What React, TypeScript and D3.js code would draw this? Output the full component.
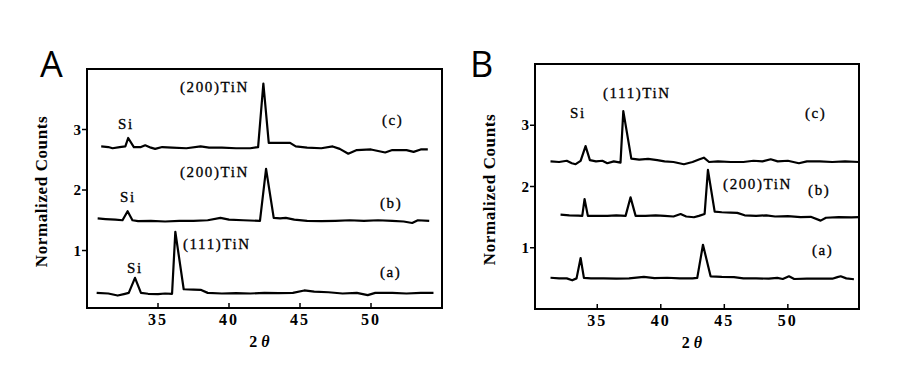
import React from "react";
import * as d3 from "d3";

type P = [number, number];

// ---------- Panel A data (2θ, normalized counts) ----------
const panelA_a: P[] = [
  [30.68, 0.3], [31.5, 0.29], [32.16, 0.256], [32.6, 0.28], [32.94, 0.3], [33.38, 0.548], [33.8, 0.3],
  [34.3, 0.285], [35.0, 0.28], [35.5, 0.29], [35.99, 0.285], [36.22, 1.31], [36.81, 0.36], [37.5, 0.355],
  [38.0, 0.35], [38.5, 0.3], [39.5, 0.29], [40.5, 0.295], [41.5, 0.29], [42.5, 0.3], [43.5, 0.295],
  [44.5, 0.3], [45.3, 0.34], [46, 0.32], [47, 0.31], [48, 0.29], [49, 0.3], [49.77, 0.262], [50.3, 0.3],
  [51.5, 0.3], [52.5, 0.29], [53.5, 0.3], [54.4, 0.3],
];
const panelA_b: P[] = [
  [30.75, 1.53], [31.3, 1.52], [32.0, 1.51], [32.5, 1.5], [32.86, 1.65], [33.2, 1.5], [33.6, 1.485],
  [34.5, 1.49], [35.5, 1.48], [36.5, 1.49], [37.5, 1.49], [38.5, 1.5], [39.4, 1.54], [40, 1.51],
  [41, 1.5], [42.18, 1.49], [42.61, 2.35], [43.15, 1.54], [43.6, 1.53], [44.0, 1.54], [44.6, 1.51],
  [45.5, 1.49], [46.5, 1.485], [47.5, 1.49], [48.5, 1.5], [49.5, 1.49], [50.5, 1.5], [51.5, 1.49],
  [52.3, 1.48], [52.9, 1.455], [53.3, 1.5], [54.1, 1.49],
];
const panelA_c: P[] = [
  [31.0, 2.72], [31.5, 2.71], [31.8, 2.69], [32.3, 2.71], [32.7, 2.72], [32.9, 2.86], [33.3, 2.71],
  [33.8, 2.71], [34.1, 2.74], [34.5, 2.7], [34.8, 2.68], [35.3, 2.71], [36, 2.7], [37, 2.69], [38.0, 2.72],
  [38.6, 2.7], [39.5, 2.7], [40.5, 2.69], [41.5, 2.69], [42.05, 2.71], [42.42, 3.76], [42.8, 2.78],
  [43.5, 2.78], [44.3, 2.78], [44.7, 2.72], [45.5, 2.7], [46.5, 2.69], [47.3, 2.72], [47.8, 2.68],
  [48.4, 2.6], [49, 2.66], [50, 2.67], [51.0, 2.62], [51.5, 2.66], [52.5, 2.66], [53, 2.63], [53.5, 2.67],
  [54.0, 2.67],
];

// ---------- Panel B data ----------
const panelB_a: P[] = [
  [31.32, 0.51], [32.0, 0.5], [32.6, 0.5], [33.03, 0.469], [33.37, 0.5], [33.69, 0.832], [33.95, 0.508],
  [34.5, 0.5], [35.5, 0.5], [36.5, 0.495], [37.5, 0.5], [38.67, 0.524], [39.5, 0.505], [40.5, 0.51],
  [41.5, 0.5], [42.5, 0.5], [42.87, 0.508], [43.32, 1.049], [43.92, 0.534], [44.8, 0.525], [45.76, 0.52],
  [46.5, 0.5], [47.5, 0.5], [48.5, 0.495], [49.17, 0.508], [49.6, 0.49], [50.09, 0.534], [50.5, 0.49],
  [51.5, 0.495], [52.5, 0.495], [53.5, 0.495], [53.9, 0.52], [54.16, 0.534], [54.6, 0.5], [55.2, 0.486],
];
const panelB_b: P[] = [
  [32.11, 1.54], [32.8, 1.53], [33.5, 1.525], [33.82, 1.52], [34.0, 1.795], [34.26, 1.52], [35.0, 1.52],
  [35.8, 1.52], [36.5, 1.53], [37.23, 1.52], [37.62, 1.823], [38.02, 1.52], [38.8, 1.52], [39.6, 1.53],
  [40.3, 1.52], [41.0, 1.51], [41.56, 1.55], [42.0, 1.51], [42.61, 1.498], [43.0, 1.52], [43.45, 1.552],
  [43.71, 2.27], [44.24, 1.589], [44.8, 1.58], [45.5, 1.575], [46.02, 1.57], [46.6, 1.53], [47.5, 1.52],
  [48.3, 1.53], [49.0, 1.51], [50.0, 1.515], [51.0, 1.5], [51.8, 1.505], [52.58, 1.443], [53.0, 1.49],
  [54.0, 1.5], [55.0, 1.495], [55.6, 1.5],
];
const panelB_c: P[] = [
  [31.32, 2.41], [32.0, 2.4], [32.6, 2.42], [33.0, 2.38], [33.3, 2.364], [33.69, 2.418], [34.08, 2.66],
  [34.42, 2.43], [34.9, 2.41], [35.4, 2.42], [35.79, 2.38], [36.3, 2.41], [36.83, 2.39], [37.05, 3.23],
  [37.68, 2.456], [38.3, 2.44], [39.0, 2.45], [39.72, 2.43], [40.3, 2.41], [41.0, 2.4], [41.82, 2.364],
  [42.5, 2.4], [43.0, 2.44], [43.39, 2.47], [43.8, 2.4], [44.5, 2.41], [45.5, 2.4], [46.5, 2.4],
  [47.3, 2.42], [48.0, 2.41], [48.65, 2.445], [49.2, 2.41], [50.0, 2.42], [50.87, 2.38], [51.5, 2.41],
  [52.5, 2.41], [53.5, 2.4], [54.5, 2.41], [55.6, 2.4],
];

const xTicks = [35, 40, 45, 50];
const yTicks = [1, 2, 3];

const labelsA = [
  { text: "(200)TiN", x: 36.55, y: 3.625 },
  { text: "Si", x: 32.18, y: 3.004 },
  { text: "(c)", x: 50.77, y: 3.075 },
  { text: "(200)TiN", x: 36.55, y: 2.22 },
  { text: "Si", x: 32.32, y: 1.807 },
  { text: "(b)", x: 50.63, y: 1.703 },
  { text: "(111)TiN", x: 36.76, y: 1.025 },
  { text: "Si", x: 32.82, y: 0.624 },
  { text: "(a)", x: 50.63, y: 0.567 },
];
const labelsB = [
  { text: "Si", x: 32.85, y: 3.113 },
  { text: "(111)TiN", x: 35.45, y: 3.44 },
  { text: "(c)", x: 51.35, y: 3.113 },
  { text: "(200)TiN", x: 44.9, y: 1.954 },
  { text: "(b)", x: 51.59, y: 1.861 },
  { text: "(a)", x: 51.9, y: 0.882 },
];

const SERIF = "'Liberation Serif', 'DejaVu Serif', serif";
const SANS = "'Open Sans', 'Liberation Sans', sans-serif";

type PanelProps = {
  letter: string;
  letterX: number;
  letterY: number;
  xDomain: [number, number];
  yDomain: [number, number];
  left: number;
  right: number;
  top: number;
  bottom: number;
  series: P[][];
  labels: { text: string; x: number; y: number }[];
  yLabelX: number;
};

function Panel(p: PanelProps) {
  const x = d3.scaleLinear().domain(p.xDomain).range([p.left, p.right]);
  const y = d3.scaleLinear().domain(p.yDomain).range([p.bottom, p.top]);
  const line = d3
    .line<P>()
    .x((d) => x(d[0]))
    .y((d) => y(d[1]));
  const cx = (p.left + p.right) / 2;
  const cy = (p.top + p.bottom) / 2;
  return (
    <g>
      <text x={p.letterX} y={p.letterY} fontFamily={SANS} fontSize={36} fill="#000">
        {p.letter}
      </text>
      <rect
        x={p.left}
        y={p.top}
        width={p.right - p.left}
        height={p.bottom - p.top}
        fill="none"
        stroke="#000"
        strokeWidth={2}
      />
      {xTicks.map((t) => (
        <g key={"x" + t}>
          <line x1={x(t)} x2={x(t)} y1={p.bottom} y2={p.bottom - 5} stroke="#000" strokeWidth={1.5} />
          <text
            x={x(t)}
            y={p.bottom + 17}
            textAnchor="middle"
            fontFamily={SERIF}
            fontSize={16}
            fontWeight="bold"
            letterSpacing={2}
          >
            {t}
          </text>
        </g>
      ))}
      {yTicks.map((t) => (
        <g key={"y" + t}>
          <line x1={p.left} x2={p.left - 5} y1={y(t)} y2={y(t)} stroke="#000" strokeWidth={1.5} />
          <text
            x={p.left - 6}
            y={y(t) + 5}
            textAnchor="end"
            fontFamily={SERIF}
            fontSize={15}
            fontWeight="bold"
          >
            {t}
          </text>
        </g>
      ))}
      <text
        x={cx - 5}
        y={p.bottom + 39}
        textAnchor="middle"
        fontFamily={SERIF}
        fontSize={16}
        fontWeight="bold"
      >
        2 <tspan fontStyle="italic">θ</tspan>
      </text>
      <text
        transform={`translate(${p.yLabelX},${cy + 3}) rotate(-90)`}
        textAnchor="middle"
        fontFamily={SERIF}
        fontSize={17}
        fontWeight="bold"
        letterSpacing={0.6}
      >
        Normalized Counts
      </text>
      {p.series.map((s, i) => (
        <path key={i} d={line(s) || ""} fill="none" stroke="#000" strokeWidth={2.2} strokeLinejoin="round" />
      ))}
      {p.labels.map((l, i) => (
        <text
          key={i}
          x={x(l.x)}
          y={y(l.y)}
          fontFamily={SERIF}
          fontSize={15}
          letterSpacing={1.6}
          stroke="#000"
          strokeWidth={0.3}
        >
          {l.text}
        </text>
      ))}
    </g>
  );
}

export default function App() {
  return (
    <svg
      width={900}
      height={383}
      viewBox="0 0 900 383"
      style={{ position: "absolute", left: 0, top: 0, background: "#fff", display: "block" }}
    >
      <rect width={900} height={383} fill="#fff" />
      <Panel
        letter="A"
        letterX={40}
        letterY={77}
        xDomain={[30, 55]}
        yDomain={[0.05, 4]}
        left={87}
        right={442}
        top={69}
        bottom={308}
        series={[panelA_a, panelA_b, panelA_c]}
        labels={labelsA}
        yLabelX={47}
      />
      <Panel
        letter="B"
        letterX={470}
        letterY={77}
        xDomain={[30.1, 55.6]}
        yDomain={[0, 4]}
        left={535}
        right={859}
        top={64}
        bottom={309}
        series={[panelB_a, panelB_b, panelB_c]}
        labels={labelsB}
        yLabelX={495}
      />
    </svg>
  );
}
